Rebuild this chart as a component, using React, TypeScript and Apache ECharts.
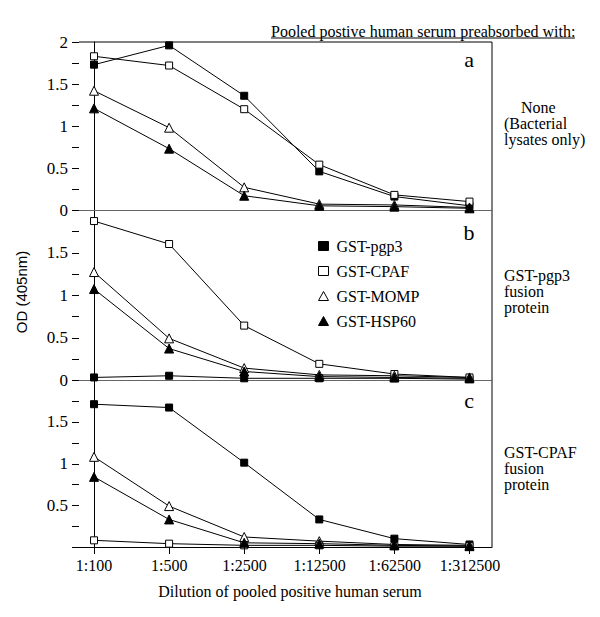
import React, { useEffect, useRef } from "react";
import * as echarts from "echarts";

const dilutions = ["1:100", "1:500", "1:2500", "1:12500", "1:62500", "1:312500"];
const seriesNames = ["GST-pgp3", "GST-CPAF", "GST-MOMP", "GST-HSP60"];

// Panel a: none (bacterial lysates only)
const aPgp3 = [1.73, 1.96, 1.36, 0.46, 0.16, 0.05];
const aCpaf = [1.83, 1.72, 1.2, 0.54, 0.18, 0.1];
const aMomp = [1.42, 0.98, 0.27, 0.07, 0.06, 0.03];
const aHsp60 = [1.21, 0.73, 0.17, 0.05, 0.04, 0.02];

// Panel b: GST-pgp3 fusion protein
const bPgp3 = [0.03, 0.05, 0.02, 0.02, 0.02, 0.01];
const bCpaf = [1.87, 1.6, 0.64, 0.19, 0.07, 0.03];
const bMomp = [1.27, 0.49, 0.14, 0.06, 0.05, 0.03];
const bHsp60 = [1.07, 0.37, 0.1, 0.04, 0.03, 0.02];

// Panel c: GST-CPAF fusion protein
const cPgp3 = [1.71, 1.67, 1.01, 0.33, 0.1, 0.03];
const cCpaf = [0.08, 0.04, 0.02, 0.02, 0.01, 0.01];
const cMomp = [1.08, 0.49, 0.12, 0.07, 0.03, 0.02];
const cHsp60 = [0.84, 0.33, 0.05, 0.04, 0.02, 0.01];

const aLabels = ["0", "0.5", "1", "1.5", "2"];
const bLabels = ["0", "0.5", "1", "1.5"];
const cLabels = ["0.5", "1", "1.5"];
const yTicks = [0, 0.25, 0.5, 0.75, 1, 1.25, 1.5, 1.75, 2];

const SERIF = "Liberation Serif";
const SANS = "Liberation Sans";

const styles = [
  { symbol: "rect", size: 7, fill: "#000" },
  { symbol: "rect", size: 7, fill: "#fff" },
  { symbol: "triangle", size: 9, fill: "#fff" },
  { symbol: "triangle", size: 9, fill: "#000" },
];

export default function App() {
  const ref = useRef<HTMLDivElement>(null);
  useEffect(() => {
    if (!ref.current) return;
    const chart = echarts.init(ref.current, undefined, { renderer: "svg" });
    const L = 79;
    const R = 492;
    const grids = [
      { left: L, right: 600 - R, top: 42, height: 168 },
      { left: L, right: 600 - R, top: 210, height: 170 },
      { left: L, right: 600 - R, top: 380, height: 167 },
      // grid used only for the category labels of the bottom axis
      { left: 94, right: 600 - 470, top: 380, height: 167 },
    ];
    const panels = [
      [aPgp3, aCpaf, aMomp, aHsp60],
      [bPgp3, bCpaf, bMomp, bHsp60],
      [cPgp3, cCpaf, cMomp, cHsp60],
    ];
    const labelSets = [aLabels, bLabels, cLabels];

    const xAxes: any[] = [0, 1, 2].map((i) => ({
      type: "value",
      gridIndex: i,
      min: -0.2,
      max: 5.3,
      splitLine: { show: false },
      axisLine: {
        show: true,
        onZero: false,
        lineStyle: { color: i === 2 ? "#000" : "#666", width: 1 },
      },
      axisTick: { show: false },
      axisLabel: { show: false },
    }));
    xAxes.push({
      type: "category",
      gridIndex: 3,
      data: dilutions,
      boundaryGap: false,
      position: "bottom",
      axisLine: { show: false },
      splitLine: { show: false },
      axisTick: { show: false },
      axisLabel: {
        interval: 0,
        fontFamily: SERIF,
        fontSize: 16,
        color: "#000",
        margin: 10,
      },
    });

    const yAxes: any[] = [0, 1, 2].map((i) => ({
      type: "value",
      gridIndex: i,
      min: 0,
      max: 2,
      interval: 0.25,
      splitLine: { show: false },
      axisLine: { show: true, lineStyle: { color: "#000", width: 1 } },
      axisTick: { show: false },
      axisLabel: {
        showMinLabel: true,
        showMaxLabel: true,
        fontFamily: SERIF,
        fontSize: 17,
        color: "#000",
        margin: 11,
        formatter: (v: number) => {
          const s = String(Math.round(v * 100) / 100);
          return labelSets[i].includes(s) ? s : "";
        },
      },
    }));
    yAxes.push({ type: "value", gridIndex: 3, show: false });

    const series: any[] = [];
    panels.forEach((arrs, p) => {
      arrs.forEach((arr, k) => {
        const st = styles[k];
        series.push({
          type: "line",
          name: seriesNames[k],
          xAxisIndex: p,
          yAxisIndex: p,
          data: arr.map((v, j) => [j, v]),
          symbol: st.symbol,
          symbolSize: st.size,
          showAllSymbol: true,
          lineStyle: { color: "#000", width: 1 },
          itemStyle: { color: st.fill, borderColor: "#000", borderWidth: 1 },
          emphasis: { disabled: true },
          z: 3,
        });
      });
    });

    const text = (t: string, x: number, y: number, size = 16, extra: any = {}) => ({
      type: "text",
      x,
      y,
      style: {
        text: t,
        fontFamily: SERIF,
        fontSize: size,
        fill: "#000",
        ...extra,
      },
    });

    chart.setOption({
      animation: false,
      grid: grids,
      xAxis: xAxes,
      yAxis: yAxes,
      series,
      legend: {
        orient: "vertical",
        left: 313,
        top: 233,
        itemWidth: 10,
        itemHeight: 9,
        itemGap: 9,
        selectedMode: false,
        textStyle: { fontFamily: SERIF, fontSize: 16, color: "#000", padding: [0, 0, 0, 3] },
        data: seriesNames.map((n, k) => ({
          name: n,
          icon: styles[k].symbol,
          itemStyle: { color: styles[k].fill, borderColor: "#000", borderWidth: 1 },
          textStyle: { fontFamily: SERIF, fontSize: 16, color: "#000" },
        })),
      },
    });

    // Axis ticks, positioned through the chart's own scales
    const tickEls: any[] = [];
    [0, 1, 2].forEach((i) => {
      yTicks.forEach((v) => {
        const p = chart.convertToPixel({ xAxisIndex: i, yAxisIndex: i } as any, [-0.2, v]) as number[];
        if (!p) return;
        const y = Math.round(p[1]) + 0.5;
        tickEls.push({
          type: "line",
          shape: { x1: p[0] - 7, y1: y, x2: p[0], y2: y },
          style: { stroke: "#000", lineWidth: 1 },
          z: 10,
        });
      });
    });
    dilutions.forEach((_, j) => {
      const p = chart.convertToPixel({ xAxisIndex: 2, yAxisIndex: 2 } as any, [j, 0]) as number[];
      if (!p) return;
      const x = Math.round(p[0]) + 0.5;
      tickEls.push({
        type: "line",
        shape: { x1: x, y1: p[1], x2: x, y2: p[1] + 7 },
        style: { stroke: "#000", lineWidth: 1 },
        z: 10,
      });
    });

    chart.setOption({
      graphic: [
        { type: "line", shape: { x1: L, y1: 42, x2: R, y2: 42 }, style: { stroke: "#000", lineWidth: 1 } },
        { type: "line", shape: { x1: R, y1: 42, x2: R, y2: 547 }, style: { stroke: "#000", lineWidth: 1 } },
        text("Pooled postive human serum preabsorbed with:", 271, 31, 16, { verticalAlign: "middle" }),
        { type: "line", shape: { x1: 271, y1: 38, x2: 575, y2: 38 }, style: { stroke: "#000", lineWidth: 1 } },
        text("a", 469, 59, 22, { align: "center", verticalAlign: "middle" }),
        text("b", 469, 232, 22, { align: "center", verticalAlign: "middle" }),
        text("c", 469, 400, 22, { align: "center", verticalAlign: "middle" }),
        text("None", 521, 107, 16, { verticalAlign: "middle" }),
        text("(Bacterial\nlysates only)", 504, 131, 16, { verticalAlign: "middle", lineHeight: 16 }),
        text("GST-pgp3\nfusion\nprotein", 504, 291, 16, { verticalAlign: "middle", lineHeight: 16 }),
        text("GST-CPAF\nfusion\nprotein", 504, 468, 16, { verticalAlign: "middle", lineHeight: 16 }),
        text("Dilution of pooled positive human serum", 290, 591, 16, { align: "center", verticalAlign: "middle" }),
        {
          type: "text",
          x: 21,
          y: 292,
          rotation: Math.PI / 2,
          style: {
            text: "OD (405nm)",
            fontFamily: SANS,
            fontSize: 15,
            fill: "#000",
            align: "center",
            verticalAlign: "middle",
          },
        },
        ...tickEls,
      ],
    });
    return () => chart.dispose();
  }, []);
  return <div ref={ref} style={{ width: 600, height: 617, position: "absolute", left: 0, top: 0 }} />;
}
